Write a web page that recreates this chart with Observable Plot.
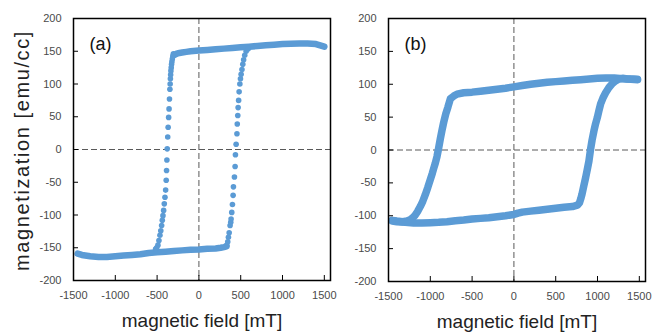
<!DOCTYPE html>
<html><head><meta charset="utf-8">
<script src="https://cdn.jsdelivr.net/npm/d3@7"></script>
<script src="https://cdn.jsdelivr.net/npm/@observablehq/plot@0.6"></script>
<style>
html,body{margin:0;padding:0;background:#fff;}
#wrap{position:relative;width:662px;height:333px;overflow:hidden;background:#fff;}
#wrap svg{position:absolute;top:0;}
</style></head><body><div id="wrap"></div>
<script>
const xTicks = [-1500,-1000,-500,0,500,1000,1500];
const yTicks = [-200,-150,-100,-50,0,50,100,150,200];
const xLabel = "magnetic field [mT]";
const yLabel = "magnetization [emu/cc]";
const panelLabels = ["(a)", "(b)"];

// Panel (a): dense plateaus
const aUpperField = [-300,-285,-270,-250,-200,-150,-100,0,100,200,300,400,500,600,700,800,900,1000,1100,1200,1300,1400,1450,1500];
const aUpperMag   = [144,145,146,147,148,149,150,151,152,153,154,155,156,157,158,159,160,161,161.5,162,162,161,159,157];
const aLowerField = [-1450,-1400,-1300,-1200,-1100,-1000,-900,-800,-700,-600,-500,-400,-300,-200,-100,0,100,200,260,300,330];
const aLowerMag   = [-159,-161,-163,-164,-164,-163,-162,-161,-160,-158,-157,-156,-155,-154,-153,-152.5,-151.5,-151,-150,-149,-148];
// Panel (a): switching branches (separate points)
const aDownField = [-305,-312,-318,-323,-327,-331,-335,-338,-341,-344,-347,-352,-357,-362,-368,-373,-379,-383,-387,-391,-398,-406,-414,-422,-430,-438,-446,-456,-466,-478,-490,-505,-518];
const aDownMag   = [146,142,138,134,130,125,120,114,108,100,92,77,62,49,34,19,1,-16,-32,-47,-62,-73,-83,-93,-101,-108,-116,-124,-131,-139,-146,-150,-152];
const aUpField = [334,345,353,362,373,381,385,393,401,409,413,425,433,437,445,455,459,465,469,475,481,490,497,505,515,525,535,548,565,590];
const aUpMag   = [-146,-141,-134,-127,-116,-111,-106,-96,-84,-70,-57,-42,-26,-8,8,24,39,52,64,75,88,100,108,115,122,130,137,144,150,154];

// Panel (b): continuous loop
const bDownField = [1480,1400,1300,1200,1100,1000,900,800,700,600,500,400,300,200,100,0,-100,-200,-300,-400,-500,-600,-680,-720,-760,-790,-815,-840,-860,-880,-900,-920,-940,-957,-975,-1000,-1030,-1060,-1090,-1120,-1150,-1180,-1210,-1240,-1280,-1330,-1400,-1455];
const bDownMag   = [107,107.5,108.5,109.5,109.5,109,108,107,106,105,104,103,101.5,100,98,96,94,92.5,91,89.5,88,87,85,82,78,65,55,42,30,17,3,-10,-20,-27,-35,-45,-57,-68,-78,-86,-93,-99,-103,-106,-108,-109,-108,-107];
const bUpField = [-1455,-1400,-1300,-1200,-1100,-1000,-900,-800,-700,-600,-500,-400,-300,-200,-100,0,50,100,200,300,400,500,600,700,760,785,800,815,835,858,880,897,917,935,957,977,997,1017,1037,1065,1097,1137,1177,1215,1256,1300,1356,1420,1476];
const bUpMag   = [-108,-109,-110,-111,-111,-110.5,-110,-109,-107.5,-106.5,-105,-104,-103,-101.5,-100,-98,-96,-94.5,-93,-91.5,-90,-88.5,-87,-86,-84,-80,-74,-67,-55,-42,-28,-17,1,15,29,40,49,60,70,79,87,95,101,105,108,109,108,108,107.5];

const blue = "#5B9BD5";
const font = "'Liberation Sans', Arial, sans-serif";
const wrap = document.getElementById("wrap");

function panel({left, width, mL, mR, mT, mB, marks, showYLabel, label}) {
  const height = 333;
  const fw = width - mL - mR, fh = height - mT - mB;
  const svg = Plot.plot({
    width, height,
    marginLeft: mL, marginRight: mR, marginTop: mT, marginBottom: mB,
    style: {fontFamily: font, fontSize: "11px", color: "#4a4a4a", background: "transparent", overflow: "visible"},
    x: {domain: [-1500, 1574], ticks: xTicks, tickFormat: d => String(d), tickSize: 0, tickPadding: 11, label: null},
    y: {domain: [-200, 200], ticks: yTicks, tickFormat: d => String(d), tickSize: 0, tickPadding: 12, label: null},
    marks: [
      Plot.ruleX([0], {stroke: "#595959", strokeWidth: 1, strokeDasharray: "6,3"}),
      Plot.ruleY([0], {stroke: "#595959", strokeWidth: 1, strokeDasharray: "6,3"}),
      ...marks,
      Plot.tickX(xTicks, {x: d => d, insetTop: fh - 5, stroke: "#000", strokeWidth: 1}),
      Plot.tickY(yTicks, {y: d => d, insetRight: fw - 5, stroke: "#000", strokeWidth: 1}),
      Plot.frame({stroke: "#000", strokeWidth: 1.5}),
      Plot.text([label], {frameAnchor: "top-left", dx: 27, dy: 19, fontSize: 18, fill: "#111", textAnchor: "middle", fontFamily: font}),
      Plot.text([xLabel], {frameAnchor: "bottom", dy: 46, fontSize: 19, fill: "#222", textAnchor: "middle", fontFamily: font}),
      ...(showYLabel ? [Plot.text([yLabel], {frameAnchor: "left", dx: -50.5, dy: 1, rotate: -90, fontSize: 20, fill: "#222", textAnchor: "middle", fontFamily: font})] : [])
    ]
  });
  svg.style.left = left + "px";
  svg.querySelectorAll("text").forEach(t => {
    if (t.textContent === yLabel) { t.style.letterSpacing = "1.6px"; }
  });
  wrap.appendChild(svg);
}

panel({
  left: 0, width: 340, mL: 73, mR: 10, mT: 18, mB: 53, showYLabel: true, label: panelLabels[0],
  marks: [
    Plot.line(aUpperField, {x: aUpperField, y: aUpperMag, stroke: blue, strokeWidth: 6.5, strokeLinecap: "round", strokeLinejoin: "round"}),
    Plot.line(aLowerField, {x: aLowerField, y: aLowerMag, stroke: blue, strokeWidth: 6.5, strokeLinecap: "round", strokeLinejoin: "round"}),
    Plot.dot(aDownField, {x: aDownField, y: aDownMag, r: 2.8, fill: blue}),
    Plot.dot(aUpField, {x: aUpField, y: aUpMag, r: 2.8, fill: blue})
  ]
});
panel({
  left: 330, width: 332, mL: 58, mR: 17, mT: 18, mB: 52, showYLabel: false, label: panelLabels[1],
  marks: [
    Plot.line(bDownField, {x: bDownField, y: bDownMag, stroke: blue, strokeWidth: 7.5, strokeLinecap: "round", strokeLinejoin: "round"}),
    Plot.line(bUpField, {x: bUpField, y: bUpMag, stroke: blue, strokeWidth: 7.5, strokeLinecap: "round", strokeLinejoin: "round"})
  ]
});
</script></body></html>
